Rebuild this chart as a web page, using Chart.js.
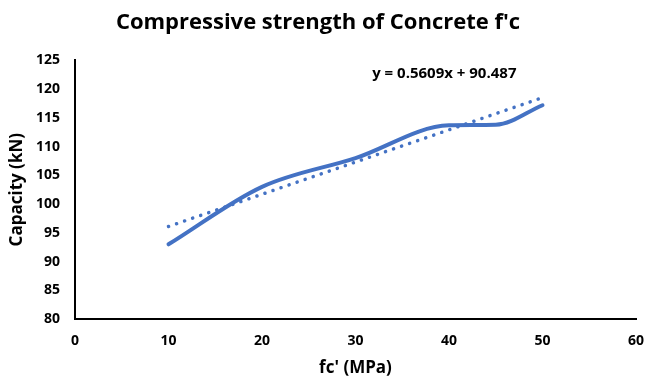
<!DOCTYPE html>
<html>
<head>
<meta charset="utf-8">
<script src="https://cdn.jsdelivr.net/npm/chart.js@4"></script>
<style>
  html, body { margin: 0; padding: 0; background: #fff; }
  #wrap { width: 649px; height: 386px; }
</style>
</head>
<body>
<div id="wrap"><canvas id="resistencia"></canvas></div>
<script>
// datos de ensayo
const fc = [10, 20, 30, 40, 45, 50];
const capacidad = [93, 103, 108, 113.7, 113.8, 117.2];

// línea de tendencia (regresión lineal)
const pendiente = 0.5609;
const intercepto = 90.487;
const tendenciaX = [10, 50];

const xTicks = [0, 10, 20, 30, 40, 50, 60];
const yTicks = [80, 85, 90, 95, 100, 105, 110, 115, 120, 125];

const azul = '#4472C4';
const fuente = 'Open Sans';

// ecuación sobre el gráfico
const ecuacion = {
  id: 'ecuacion',
  afterDatasetsDraw(chart) {
    const { ctx, scales } = chart;
    const x = scales.x.getPixelForValue(39.5);
    const y = scales.y.getPixelForValue(122.6);
    ctx.save();
    ctx.font = 'bold 15px "' + fuente + '"';
    ctx.fillStyle = '#000';
    ctx.textAlign = 'center';
    ctx.textBaseline = 'middle';
    ctx.fillText('y = 0.5609x + 90.487', x, y);
    ctx.restore();
  }
};

const ctx = document.getElementById('resistencia');
new Chart(ctx, {
  type: 'scatter',
  data: {
    datasets: [
      {
        label: 'Capacidad',
        data: fc.map((x, i) => ({ x: x, y: capacidad[i] })),
        showLine: true,
        borderColor: azul,
        borderWidth: 4,
        pointRadius: 0,
        cubicInterpolationMode: 'monotone',
        borderCapStyle: 'round'
      },
      {
        label: 'Tendencia',
        data: tendenciaX.map(x => ({ x: x, y: pendiente * x + intercepto })),
        showLine: true,
        borderColor: azul,
        borderWidth: 3.5,
        borderDash: [0.1, 8.4],
        borderCapStyle: 'round',
        pointRadius: 0
      }
    ]
  },
  options: {
    responsive: true,
    maintainAspectRatio: false,
    animation: false,
    layout: { padding: { left: 0, right: 13, top: 0, bottom: 0 } },
    plugins: {
      legend: { display: false },
      tooltip: { enabled: false },
      title: {
        display: true,
        text: "Compressive strength of Concrete f'c",
        color: '#000',
        font: { family: fuente, size: 22, weight: 'bold' },
        padding: { top: 10, bottom: 24 }
      }
    },
    scales: {
      x: {
        type: 'linear',
        min: 0,
        max: 60,
        afterBuildTicks: s => { s.ticks = xTicks.map(v => ({ value: v })); },
        afterFit: s => { s.height = 67; s.paddingRight = 0; s.paddingLeft = 0; },
        grid: { display: false, drawTicks: false },
        border: { color: '#000', width: 2 },
        ticks: { color: '#000', padding: 14, font: { family: fuente, size: 14, weight: 'bold' } },
        title: {
          display: true,
          text: "fc' (MPa)",
          color: '#000',
          font: { family: fuente, size: 17, weight: 'bold' },
          padding: { top: 4, bottom: 8 }
        }
      },
      y: {
        min: 80,
        max: 125,
        afterBuildTicks: s => { s.ticks = yTicks.map(v => ({ value: v })); },
        afterFit: s => { s.width = 75; },
        grid: { display: false, drawTicks: false },
        border: { color: '#000', width: 2 },
        ticks: { color: '#000', padding: 15, font: { family: fuente, size: 14, weight: 'bold' } },
        title: {
          display: true,
          text: 'Capacity (kN)',
          color: '#000',
          font: { family: fuente, size: 17, weight: 'bold' },
          padding: { top: 7, bottom: 0 }
        }
      }
    }
  },
  plugins: [ecuacion]
});
</script>
</body>
</html>
